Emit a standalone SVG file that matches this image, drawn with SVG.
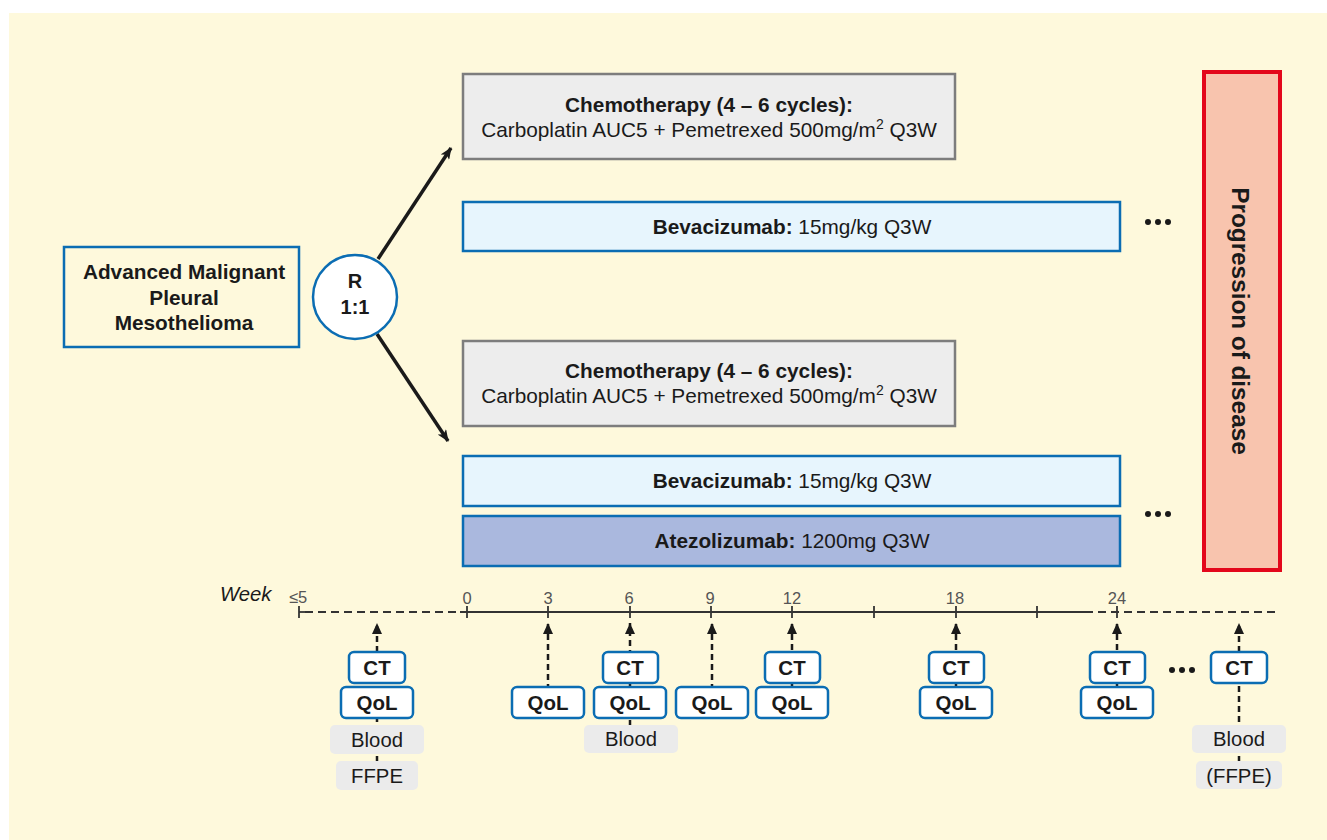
<svg xmlns="http://www.w3.org/2000/svg" width="1327" height="840" viewBox="0 0 1327 840">
  <defs>
    <marker id="arrowMain" viewBox="0 0 12 10" refX="11" refY="5" markerWidth="12" markerHeight="10" markerUnits="userSpaceOnUse" orient="auto">
      <path d="M0,0 L12,5 L0,10 L3,5 Z" fill="#1a1a1a"/>
    </marker>
    <marker id="arrowUp" viewBox="0 0 10 11" refX="5" refY="0" markerWidth="10" markerHeight="11" markerUnits="userSpaceOnUse" orient="0">
      <path d="M5,0 L10,11 L0,11 Z" fill="#1a1a1a"/>
    </marker>
    <style>
      text { font-family: "Liberation Sans", Arial, sans-serif; fill: #1a1a1a; }
      .b { font-weight: bold; }
      .t21 { font-size: 20.8px; }
      .chemo { fill: #ededed; stroke: #7d7d7d; stroke-width: 2.5; }
      .bev { fill: #e7f5fd; stroke: #0b6db3; stroke-width: 2.5; }
      .atezo { fill: #aab8de; stroke: #0b6db3; stroke-width: 2.5; }
      .tag { fill: #ffffff; stroke: #0b6db3; stroke-width: 2.5; }
      .sample { fill: #ebebeb; }
      .lbl { font-size: 20.5px; font-weight: bold; text-anchor: middle; }
      .smp { font-size: 20.3px; text-anchor: middle; }
      .tick { stroke: #333; stroke-width: 1.8; }
      .num { font-size: 16.5px; fill: #555; text-anchor: middle; }
      .up { stroke: #1a1a1a; stroke-width: 2.5; stroke-dasharray: 6 4; fill: none; }
      .dot { fill: #1a1a1a; }
    </style>
  </defs>

  <!-- background panel -->
  <rect x="0" y="0" width="1327" height="840" fill="#ffffff"/>
  <rect x="9" y="13" width="1318" height="827" fill="#fef9dc"/>

  <!-- randomisation branches -->
  <g id="connectors">
    <line x1="378" y1="259" x2="451" y2="148" stroke="#1a1a1a" stroke-width="3.5" marker-end="url(#arrowMain)"/>
    <line x1="377" y1="334" x2="448" y2="441" stroke="#1a1a1a" stroke-width="3.5" marker-end="url(#arrowMain)"/>
  </g>

  <g id="patients">
    <rect x="64" y="247" width="235" height="100" fill="#fef9dc" stroke="#0b6db3" stroke-width="2.5"/>
    <text class="b t21" x="184" y="279" text-anchor="middle">Advanced Malignant</text>
    <text class="b t21" x="184" y="305" text-anchor="middle">Pleural</text>
    <text class="b t21" x="184" y="330" text-anchor="middle">Mesothelioma</text>
  </g>

  <g id="randomisation">
    <circle cx="355" cy="297" r="42" fill="#ffffff" stroke="#0b6db3" stroke-width="2.5"/>
    <text class="b" x="355" y="288" font-size="20" text-anchor="middle">R</text>
    <text class="b" x="355" y="314" font-size="20" text-anchor="middle">1:1</text>
  </g>

  <!-- arm A -->
  <g id="chemo-a">
    <rect class="chemo" x="463" y="74" width="492" height="85"/>
    <text class="b t21" x="709" y="112" text-anchor="middle">Chemotherapy (4 – 6 cycles):</text>
    <text class="t21" x="709" y="137" text-anchor="middle">Carboplatin AUC5 + Pemetrexed 500mg/m<tspan font-size="14" dy="-8">2</tspan><tspan dy="8"> Q3W</tspan></text>
  </g>
  <g id="bev-a">
    <rect class="bev" x="463" y="202" width="657" height="49"/>
    <text class="t21" x="792" y="234" text-anchor="middle"><tspan class="b">Bevacizumab:</tspan> 15mg/kg Q3W</text>
  </g>
  <g id="cont-a">
    <circle class="dot" cx="1148" cy="222" r="3"/>
    <circle class="dot" cx="1158" cy="222" r="3"/>
    <circle class="dot" cx="1168" cy="222" r="3"/>
  </g>

  <!-- arm B -->
  <g id="chemo-b">
    <rect class="chemo" x="463" y="341" width="492" height="85"/>
    <text class="b t21" x="709" y="378" text-anchor="middle">Chemotherapy (4 – 6 cycles):</text>
    <text class="t21" x="709" y="403" text-anchor="middle">Carboplatin AUC5 + Pemetrexed 500mg/m<tspan font-size="14" dy="-8">2</tspan><tspan dy="8"> Q3W</tspan></text>
  </g>
  <g id="bev-b">
    <rect class="bev" x="463" y="456" width="657" height="50"/>
    <text class="t21" x="792" y="488" text-anchor="middle"><tspan class="b">Bevacizumab:</tspan> 15mg/kg Q3W</text>
  </g>
  <g id="atezo-b">
    <rect class="atezo" x="463" y="516" width="657" height="50"/>
    <text class="t21" x="792" y="548" text-anchor="middle"><tspan class="b">Atezolizumab:</tspan> 1200mg Q3W</text>
  </g>
  <g id="cont-b">
    <circle class="dot" cx="1148" cy="514" r="3"/>
    <circle class="dot" cx="1158" cy="514" r="3"/>
    <circle class="dot" cx="1168" cy="514" r="3"/>
  </g>

  <g id="progression">
    <rect x="1204" y="72" width="76" height="498" fill="#f8c4ae" stroke="#e3071b" stroke-width="4"/>
    <text class="b" x="0" y="0" font-size="24.3" text-anchor="middle" transform="translate(1232 321) rotate(90)">Progression of disease</text>
  </g>

  <!-- timeline axis -->
  <g id="timeline">
    <text x="220" y="601" font-size="20.3" font-style="italic" fill="#555">Week</text>
    <line class="tick" x1="299" y1="612" x2="305" y2="612"/>
    <line x1="305" y1="612" x2="460" y2="612" stroke="#333" stroke-width="1.8" stroke-dasharray="8 5"/>
    <line x1="460" y1="612" x2="1093" y2="612" stroke="#333" stroke-width="1.8"/>
    <line x1="1098" y1="612" x2="1280" y2="612" stroke="#333" stroke-width="1.8" stroke-dasharray="8 5"/>
    <line class="tick" x1="299" y1="606" x2="299" y2="618"/>
    <line class="tick" x1="467" y1="606" x2="467" y2="618"/>
    <line class="tick" x1="548" y1="606" x2="548" y2="618"/>
    <line class="tick" x1="630" y1="606" x2="630" y2="618"/>
    <line class="tick" x1="711" y1="606" x2="711" y2="618"/>
    <line class="tick" x1="792" y1="606" x2="792" y2="618"/>
    <line class="tick" x1="874" y1="606" x2="874" y2="618"/>
    <line class="tick" x1="956" y1="606" x2="956" y2="618"/>
    <line class="tick" x1="1037" y1="606" x2="1037" y2="618"/>
    <line class="tick" x1="1117" y1="606" x2="1117" y2="618"/>
    <text class="num" x="298" y="603">≤5</text>
    <text class="num" x="467" y="604">0</text>
    <text class="num" x="548" y="604">3</text>
    <text class="num" x="629" y="604">6</text>
    <text class="num" x="710" y="604">9</text>
    <text class="num" x="792" y="604">12</text>
    <text class="num" x="955" y="604">18</text>
    <text class="num" x="1117" y="604">24</text>
  </g>

  <!-- assessment arrows -->
  <g id="assessment-links">
    <line class="up" x1="377" y1="762" x2="377" y2="623" marker-end="url(#arrowUp)"/>
    <line class="up" x1="548" y1="690" x2="548" y2="623" marker-end="url(#arrowUp)"/>
    <line class="up" x1="630" y1="726" x2="630" y2="623" marker-end="url(#arrowUp)"/>
    <line class="up" x1="712" y1="690" x2="712" y2="623" marker-end="url(#arrowUp)"/>
    <line class="up" x1="792" y1="690" x2="792" y2="623" marker-end="url(#arrowUp)"/>
    <line class="up" x1="956" y1="690" x2="956" y2="623" marker-end="url(#arrowUp)"/>
    <line class="up" x1="1117" y1="690" x2="1117" y2="623" marker-end="url(#arrowUp)"/>
    <line class="up" x1="1239" y1="762" x2="1239" y2="623" marker-end="url(#arrowUp)"/>
  </g>

  <!-- screening -->
  <g id="screening">
    <rect class="tag" x="349" y="652" width="56" height="31" rx="5"/>
    <text class="lbl" x="377" y="675">CT</text>
    <rect class="tag" x="341" y="687" width="72" height="31" rx="5"/>
    <text class="lbl" x="377" y="710">QoL</text>
    <rect class="sample" x="330" y="725" width="94" height="29" rx="5"/>
    <text class="smp" x="377" y="747">Blood</text>
    <rect class="sample" x="336" y="761" width="82" height="29" rx="5"/>
    <text class="smp" x="377" y="783">FFPE</text>
  </g>

  <g id="week3">
    <rect class="tag" x="512" y="687" width="72" height="31" rx="5"/>
    <text class="lbl" x="548" y="710">QoL</text>
  </g>

  <g id="week6">
    <rect class="tag" x="603" y="652" width="55" height="31" rx="5"/>
    <text class="lbl" x="630" y="675">CT</text>
    <rect class="tag" x="594" y="687" width="72" height="31" rx="5"/>
    <text class="lbl" x="630" y="710">QoL</text>
    <rect class="sample" x="584" y="725" width="94" height="28" rx="5"/>
    <text class="smp" x="631" y="746">Blood</text>
  </g>

  <g id="week9">
    <rect class="tag" x="676" y="687" width="72" height="31" rx="5"/>
    <text class="lbl" x="712" y="710">QoL</text>
  </g>

  <g id="week12">
    <rect class="tag" x="765" y="652" width="55" height="31" rx="5"/>
    <text class="lbl" x="792" y="675">CT</text>
    <rect class="tag" x="756" y="687" width="72" height="31" rx="5"/>
    <text class="lbl" x="792" y="710">QoL</text>
  </g>

  <g id="week18">
    <rect class="tag" x="929" y="652" width="55" height="31" rx="5"/>
    <text class="lbl" x="956" y="675">CT</text>
    <rect class="tag" x="920" y="687" width="72" height="31" rx="5"/>
    <text class="lbl" x="956" y="710">QoL</text>
  </g>

  <g id="week24">
    <rect class="tag" x="1090" y="652" width="55" height="31" rx="5"/>
    <text class="lbl" x="1117" y="675">CT</text>
    <rect class="tag" x="1081" y="687" width="72" height="31" rx="5"/>
    <text class="lbl" x="1117" y="710">QoL</text>
  </g>

  <g id="cont-visits">
    <circle class="dot" cx="1172" cy="670" r="3"/>
    <circle class="dot" cx="1182" cy="670" r="3"/>
    <circle class="dot" cx="1192" cy="670" r="3"/>
  </g>

  <g id="progression-visit">
    <rect class="tag" x="1211" y="652" width="56" height="31" rx="5"/>
    <text class="lbl" x="1239" y="675">CT</text>
    <rect class="sample" x="1192" y="725" width="94" height="28" rx="5"/>
    <text class="smp" x="1239" y="746">Blood</text>
    <rect class="sample" x="1196" y="761" width="86" height="28" rx="5"/>
    <text class="smp" x="1239" y="783">(FFPE)</text>
  </g>
</svg>
